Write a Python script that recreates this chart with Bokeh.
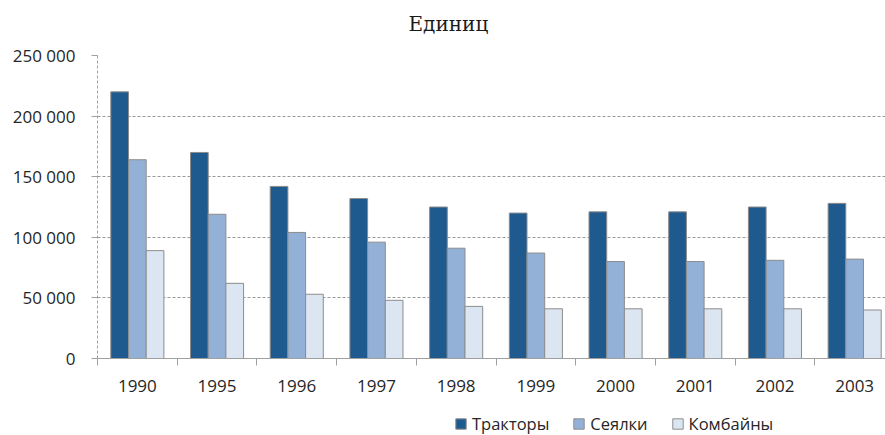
from bokeh.plotting import figure
from bokeh.layouts import column
from bokeh.models import Range1d, FixedTicker, Legend, LegendItem, Label
from bokeh.embed import file_html
from bokeh.resources import INLINE

years = ["1990", "1995", "1996", "1997", "1998", "1999", "2000", "2001", "2002", "2003"]
tractors = [220000, 170000, 142000, 132000, 125000, 120000, 121000, 121000, 125000, 128000]
seeders = [164000, 119000, 104000, 96000, 91000, 87000, 80000, 80000, 81000, 82000]
combines = [89000, 62000, 53000, 48000, 43000, 41000, 41000, 41000, 41000, 40000]
series_names = ["Тракторы", "Сеялки", "Комбайны"]
colors = ["#1F5A8F", "#93B1D7", "#DCE6F2"]
y_ticks = [0, 50000, 100000, 150000, 200000, 250000]
y_tick_labels = ["0", "50 000", "100 000", "150 000", "200 000", "250 000"]
title_text = "Единиц"

FONT = "Open Sans"
TXT = "#262626"
EDGE = "#8C8C8C"


def strip(h):
    f = figure(width=885, height=h, output_backend="svg", toolbar_location=None,
               x_range=Range1d(0, 1), y_range=Range1d(0, 1),
               x_axis_location=None, y_axis_location=None, min_border=0)
    f.outline_line_color = None
    f.xgrid.visible = False
    f.ygrid.visible = False
    return f


# title strip
tf = strip(43)
tf.add_layout(Label(x=311, y=20, x_units="screen", y_units="screen", text=title_text,
                    text_font="DejaVu Serif", text_font_size="20px", text_color="#1A1A1A",
                    text_align="left", text_baseline="alphabetic"))

p = figure(width=885, height=357, output_backend="svg", toolbar_location=None,
           x_range=Range1d(0, 9.887), y_range=Range1d(0, 250000),
           min_border_left=97, min_border_right=0, min_border_top=12, min_border_bottom=42)
p.outline_line_color = None
p.background_fill_color = "white"
p.border_fill_color = "white"

bw = 0.222
renderers = []
for k, vals in enumerate([tractors, seeders, combines]):
    xs = [i + 0.5 + (k - 1) * bw for i in range(len(years))]
    r = p.vbar(x=xs, top=vals, width=bw, bottom=0, fill_color=colors[k],
               line_color=EDGE, line_width=1)
    renderers.append(r)

# x axis: labels at centres, tick marks at category boundaries
xa = p.xaxis[0]
centers = [i + 0.5 for i in range(len(years))]
xa.ticker = FixedTicker(ticks=centers, minor_ticks=list(range(len(years) + 1)))
xa.major_label_overrides = {c: y for c, y in zip(centers, years)}
xa.major_tick_out = 0
xa.major_tick_in = 0
xa.minor_tick_out = 7
xa.minor_tick_in = 0
xa.minor_tick_line_color = "#A0A0A0"
xa.axis_line_color = "#A0A0A0"
xa.major_label_standoff = 14
xa.major_label_text_font = FONT
xa.major_label_text_font_size = "17px"
xa.major_label_text_color = TXT

ya = p.yaxis[0]
ya.ticker = FixedTicker(ticks=y_ticks)
ya.major_label_overrides = {t: l for t, l in zip(y_ticks, y_tick_labels)}
ya.minor_tick_out = 0
ya.minor_tick_in = 0
ya.major_tick_out = 6
ya.major_tick_in = 0
ya.major_tick_line_color = "#A0A0A0"
ya.axis_line_color = "#A0A0A0"
ya.axis_line_dash = "3 2"
ya.major_label_standoff = 16
ya.major_label_text_font = FONT
ya.major_label_text_font_size = "17px"
ya.major_label_text_color = TXT

p.xgrid.grid_line_color = None
p.ygrid.grid_line_color = "#999999"
p.ygrid.grid_line_dash = "3 2"
p.ygrid.ticker = FixedTicker(ticks=y_ticks)

# legend strip underneath the chart (its swatches reuse the bar styles)
lf = strip(35)
leg_renderers = []
for k in range(len(series_names)):
    leg_renderers.append(lf.vbar(x=[-5], top=[0], bottom=[0], width=bw, fill_color=colors[k],
                                 line_color=EDGE, line_width=1))

legend = Legend(items=[LegendItem(label=n, renderers=[r]) for n, r in zip(series_names, leg_renderers)],
                orientation="horizontal", location=(357, 0))
legend.border_line_color = None
legend.background_fill_alpha = 0
legend.label_text_font = FONT
legend.label_text_font_size = "16.5px"
legend.label_text_color = TXT
legend.glyph_width = 13
legend.glyph_height = 13
legend.label_standoff = 5
legend.spacing = 23
legend.padding = 0
legend.margin = 0
lf.add_layout(legend, "center")

layout = column(tf, p, lf, spacing=0)
open("out.html", "w").write(file_html(layout, INLINE))
